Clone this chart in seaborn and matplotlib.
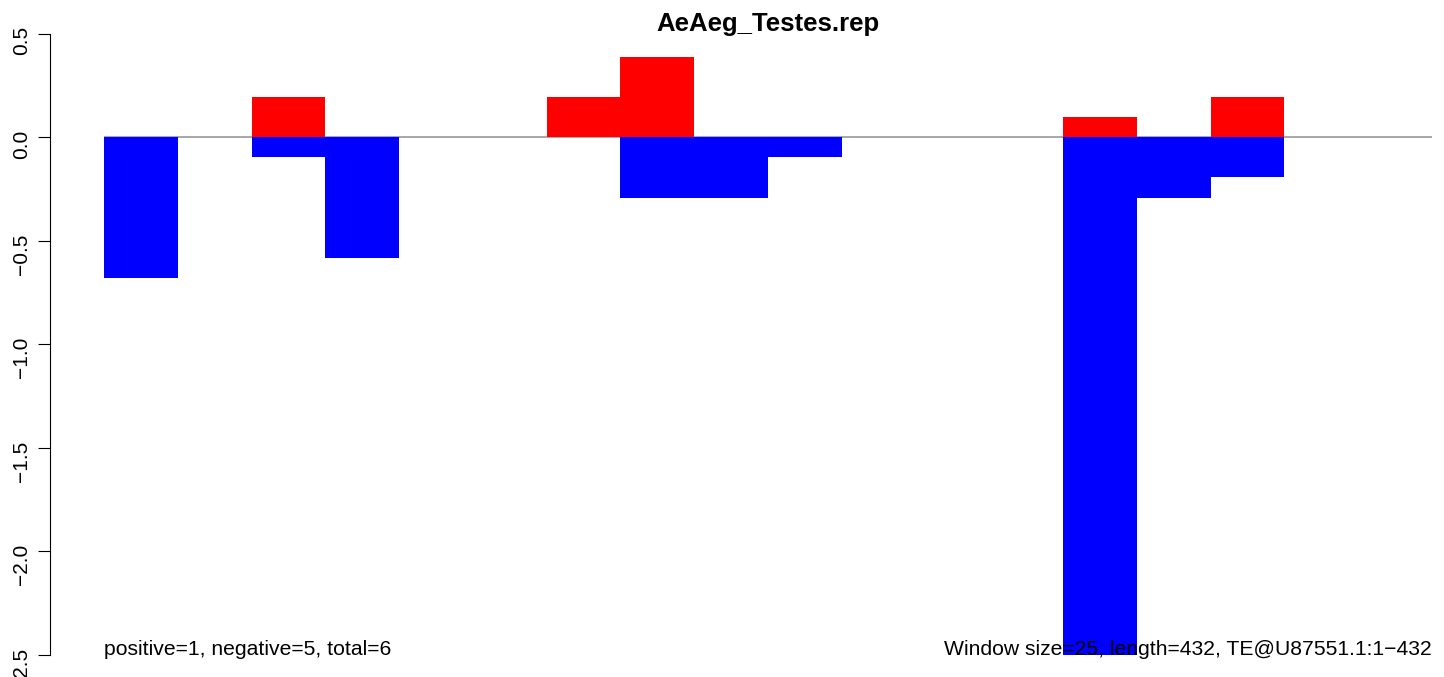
"""Window-by-window positive/negative bar chart for AeAeg_Testes.rep, saved as out.png."""

import pandas as pd
import matplotlib
matplotlib.use("Agg")
import matplotlib.pyplot as plt
import seaborn as sns

# data (one bar per 25 bp window, 18 windows over 432 bp)
windows=list(range(18))
positive=[0,0,0.194,0,0,0,0.194,0.388,0,0,0,0,0,0.097,0,0.194,0,0]
negative=[-0.68,0,-0.097,-0.582,0,0,0,-0.291,-0.291,-0.097,0,0,0,-2.5,-0.291,-0.194,0,0]
yticks=[0.5,0.0,-0.5,-1.0,-1.5,-2.0,-2.5]
title="AeAeg_Testes.rep"
left_note="positive=1, negative=5, total=6"
right_note="Window size=25, length=432, TE@U87551.1:1\u2212432"

W,H=1444,677

def main():
    sns.set_style("white")
    plt.rcParams["font.family"]=["Liberation Sans","DejaVu Sans"]
    plt.rcParams["axes.unicode_minus"]=True
    plt.rcParams["text.color"]="black"
    plt.rcParams["ytick.color"]="black"

    fig=plt.figure(figsize=(W/100,H/100),dpi=100)
    ax=fig.add_axes([50/W,0,(W-50)/W,(H-10)/H])

    df=pd.DataFrame({"center":[w+0.5 for w in windows],"positive":positive,"negative":negative})

    ax.hlines(0,0,len(windows),color="#a0a0a0",linewidth=1.3,zorder=1)
    sns.barplot(data=df,x="center",y="positive",native_scale=True,orient="x",width=1,
                color="red",saturation=1,errorbar=None,linewidth=0,ax=ax,zorder=2)
    sns.barplot(data=df,x="center",y="negative",native_scale=True,orient="x",width=1,
                color="blue",saturation=1,errorbar=None,linewidth=0,ax=ax,zorder=2)

    px=73.78                     # pixels per window
    ypx=207.1                    # pixels per y unit
    x_lo=-(104-50)/px
    ax.set_xlim(x_lo,x_lo+(W-50)/px)
    ax.set_ylim(-2.5-(677-655)/ypx,0.5+(33.7-10)/ypx)

    ax.xaxis.set_visible(False)
    for side in ["top","right","bottom"]:
        ax.spines[side].set_visible(False)
    ax.spines["left"].set_bounds(-2.5,0.5)
    ax.spines["left"].set_linewidth(0.8)
    ax.spines["left"].set_color("black")
    ax.set_yticks(yticks)
    ax.set_yticklabels([f"{t:.1f}".replace("-","\u2212") for t in yticks])
    ax.tick_params(axis="y",left=True,length=8.6,width=0.8,color="black",labelcolor="black",
                   pad=5,labelsize=15,labelrotation=90)
    ax.set_ylabel("")

    ax.text(0,-2.5,left_note,ha="left",va="baseline",fontsize=15.2)
    ax.text(len(windows),-2.5,right_note,ha="right",va="baseline",fontsize=15.2)
    fig.text(768/W,1-30.7/H,title,ha="center",va="baseline",fontsize=18.5,fontweight="bold")

    fig.savefig("out.png",dpi=100)
    plt.close(fig)

if __name__=="__main__":
    main()
